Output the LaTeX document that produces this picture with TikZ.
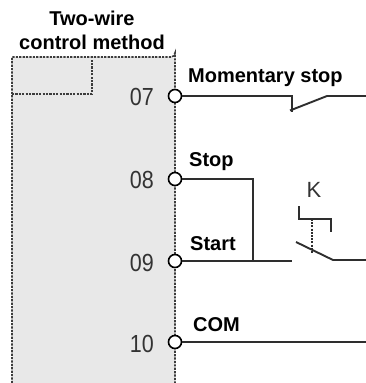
\documentclass[tikz,border=0pt]{standalone}
\usepackage{fontspec}
\setmainfont{Liberation Sans}
\begin{document}
\begin{tikzpicture}[x=1pt,y=-1pt,
  wire/.style={draw=wirecol,line width=1.9pt},
  dotline/.style={draw=dotcol,line width=1.7pt,dash pattern=on 2.2pt off 1.2pt},
  term/.style={circle,draw=black,fill=white,line width=1.6pt,minimum size=13pt,inner sep=0pt},
  num/.style={anchor=east,text=numcol,font=\fontsize{21.5}{24}\selectfont,inner sep=0pt},
  lbl/.style={anchor=west,font=\bfseries\fontsize{20}{24}\selectfont,inner sep=0pt},
  ttl/.style={font=\bfseries\fontsize{20}{24}\selectfont,inner sep=0pt}]
\definecolor{wirecol}{HTML}{2E2E2E}
\definecolor{dotcol}{HTML}{3C3C3C}
\definecolor{numcol}{HTML}{333333}
\definecolor{boxgray}{HTML}{E8E8E8}
\useasboundingbox (0,0) rectangle (366,383);
% title
\node[ttl] (t1) at (92,18) {Two-wire};
\node[ttl] (t2) at (92,42) {control method};
% box
\fill[boxgray,rounded corners=4pt] (12,400) -- (12,57) -- (175,57) -- (175,400) -- cycle;
\draw[dotline] (12,400) -- (12,57) -- (171,57) arc[start angle=90,end angle=0,radius=4] -- (175,400);
\draw[dotline] (12,94) -- (92,94) -- (92,57);
% terminals
\node[term] (p07) at (175,96) {};
\node[term] (p08) at (175,179) {};
\node[term] (p09) at (175,261) {};
\node[term] (p10) at (175,342) {};
\node[num] (n07) at (154,97) {\scalebox{1}[1.15]{07}};
\node[num] (n08) at (154,180) {\scalebox{1}[1.15]{08}};
\node[num] (n09) at (154,263) {\scalebox{1}[1.15]{09}};
\node[num] (n10) at (154,344) {\scalebox{1}[1.15]{10}};
% labels
\node[lbl] (lms) at (188,78) {Momentary stop};
\node[lbl] (lstop) at (189,162) {Stop};
\node[lbl] (lstart) at (190,244) {Start};
\node[lbl] (lcom) at (193,325) {COM};
\node[font=\fontsize{22}{24}\selectfont,text=numcol,inner sep=0pt] (lk) at (314,190) {K};
% coordinates
\coordinate (a1) at (292,96);
\coordinate (a2) at (292,112);
\coordinate (a3) at (327,96);
\coordinate (a4) at (366,96);
\coordinate (b1) at (253,179);
\coordinate (b2) at (253,261);
\coordinate (c1) at (292,261);
\coordinate (c2) at (296,242);
\coordinate (c3) at (333,260);
\coordinate (c4) at (366,260);
\coordinate (k1) at (299,206);
\coordinate (k2) at (299,219);
\coordinate (k3) at (331,219);
\coordinate (k4) at (331,232);
\coordinate (k5) at (312,219);
\coordinate (k6) at (312,254);
\coordinate (d1) at (366,342);
% wires
\draw[wire] (p07.east) -- (a1) -- (a2);
\draw[wire] (290,110.5) -- (a3) -- (a4);
\draw[wire] (p08.east) -- (b1) -- (b2);
\draw[wire] (p09.east) -- (c1);
\draw[wire] (c2) -- (c3) -- (c4);
\draw[wire] (k1) -- (k2) -- (k3) -- (k4);
\draw[wirecol,line width=1.5pt,dash pattern=on 2pt off 1.2pt] (k5) -- (k6);
\draw[wire] (p10.east) -- (d1);
\end{tikzpicture}
\end{document}
